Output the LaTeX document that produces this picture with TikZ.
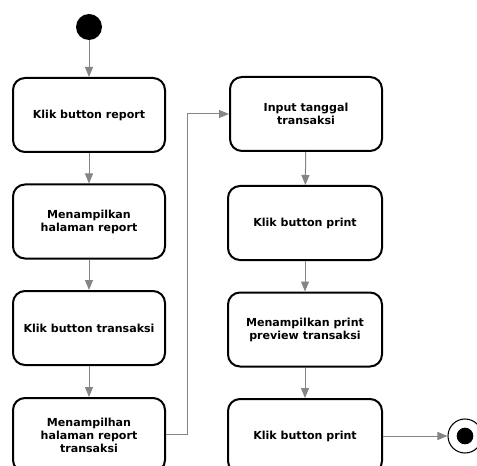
\documentclass[tikz,border=0pt]{standalone}
\usepackage{fontspec}
\setmainfont{DejaVu Sans}
\usepackage{xcolor}
\usetikzlibrary{arrows.meta,calc,positioning}
\definecolor{flowgray}{HTML}{858585}
\tikzset{
  actbox/.style={
    rounded corners=9pt,
    draw=black,
    line width=1.5pt,
    fill=white,
    align=center,
    font=\fontsize{8.3}{9.75}\selectfont\bfseries,
    minimum width=114pt,
    minimum height=55.5pt,
    inner sep=2pt
  },
  widebox/.style={minimum width=115.5pt},
  initnode/.style={circle, fill=black, minimum size=19.5pt, inner sep=0pt},
  finalring/.style={circle, draw=black, line width=0.8pt, fill=white, minimum size=25.5pt, inner sep=0pt},
  finaldot/.style={circle, fill=black, minimum size=12.5pt, inner sep=0pt},
  flowedge/.style={line width=0.75pt, draw=flowgray, -{Triangle[length=7.5pt,width=6pt,fill=flowgray]}}
}

\begin{document}
\begin{tikzpicture}[x=0.75pt,y=-0.75pt]
\path[use as bounding box] (0,0) rectangle (477,466);
\fill[white] (0,0) rectangle (477,466);

\node[initnode] (start) at (89,27) {};

\node[actbox] (report) at (89,115) {Klik button report};
\node[actbox] (halreport) at (89,221.5) {Menampilkan\\halaman report};
\node[actbox] (transaksi) at (89,328) {Klik button transaksi};
\node[actbox] (halsaksi) at (89,435) {Menampilhan\\halaman report\\transaksi};

\node[actbox] (tanggal) at (306,114) {Input tanggal\\transaksi};
\node[actbox, widebox] (print) at (305,223) {Klik button print};
\node[actbox, widebox] (preview) at (305,329.5) {Menampilkan print\\preview transaksi};
\node[actbox, widebox] (printb) at (305,436) {Klik button print};

\node[finalring] (finish) at (465,436) {};
\node[finaldot] (finishdot) at (finish) {};

\draw[flowedge] (start) -- (report);
\draw[flowedge] (report) -- (halreport);
\draw[flowedge] (halreport) -- (transaksi);
\draw[flowedge] (transaksi) -- (halsaksi);
\draw[flowedge] (halsaksi.east) ++(0,-1) -- ++(21,0) |- (tanggal.west);
\draw[flowedge] (tanggal) -- (print);
\draw[flowedge] (print) -- (preview);
\draw[flowedge] (preview) -- (printb);
\draw[flowedge] (printb) -- (finish);

\end{tikzpicture}
\end{document}
